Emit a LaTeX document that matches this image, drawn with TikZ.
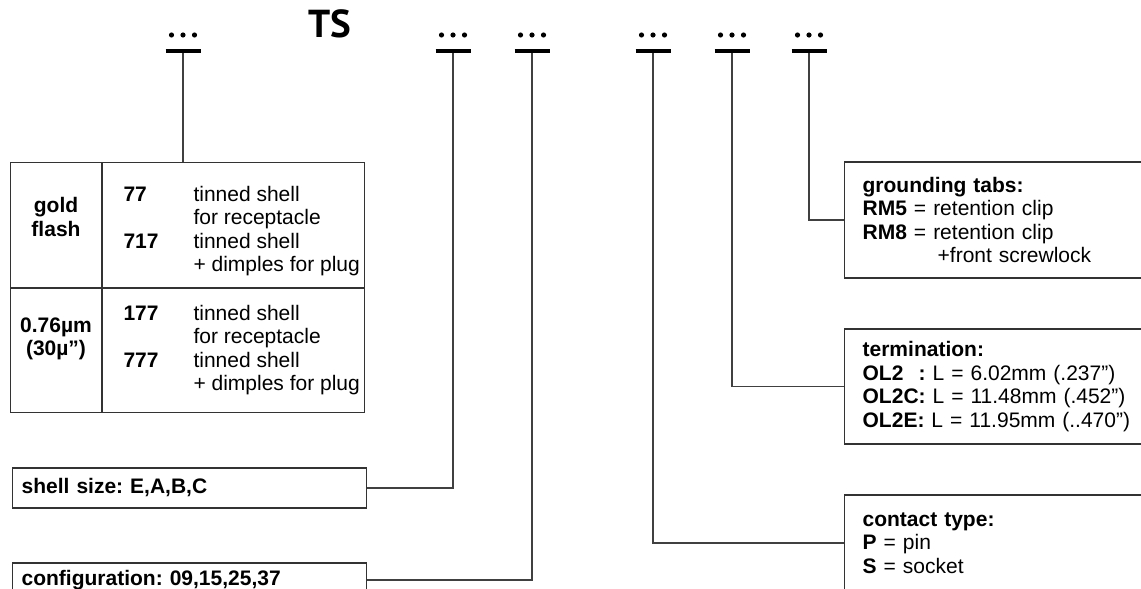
\documentclass[tikz,border=0pt]{standalone}
\usepackage{fontspec}
\setmainfont{Liberation Sans}
\newfontfamily\tsfont{PT Sans}
\newcommand\bodyfont{\fontsize{21}{23.5}\selectfont\frenchspacing}
\begin{document}
\begin{tikzpicture}[x=1pt,y=-1pt,font=\bodyfont,every node/.style={text=black},
    box/.style={draw=black!80,line width=1.3pt,inner sep=0pt},
    infobox/.style={box,anchor=west,text width=300pt,align=left,inner xsep=18pt},
    link/.style={draw=black!75,line width=1.1pt}]
    \useasboundingbox (0,0) rectangle (1141,589);
    \node[font=\tsfont\fontsize{39}{39}\selectfont\bfseries] (ts) at (329.5,24) {TS};
    \foreach \name/\x in {m1/183,m2/453,m3/532,m4/653,m5/732,m6/809}
      \coordinate (\name) at (\x,51);
    % plating table
    \node[box,anchor=north west,minimum width=354pt,minimum height=250pt] (plating) at (10,162) {};
    \draw[box] ([xshift=92pt]plating.north west) -- ([xshift=92pt]plating.south west);
    \draw[box] ([yshift=-126pt]plating.north west) -- ([yshift=-126pt]plating.north east);
    \node[font=\bodyfont\bfseries,align=center] (gold) at (56,217) {gold\\flash};
    \node[font=\bodyfont\bfseries,align=center] (thick) at (56,339) {0.76µm\\(30µ”)};
    % base anchor = baseline of the last line
    \node[font=\bodyfont\bfseries,anchor=base west,align=left] (codeA) at (120,248) {77\\[23.5pt]717};
    \node[font=\bodyfont\bfseries,anchor=base west,align=left] (codeB) at (120,367) {177\\[23.5pt]777};
    \node[anchor=base west,align=left] (descA) at (190,271.5) {tinned shell\\for receptacle\\tinned shell\\+ dimples for plug};
    \node[anchor=base west,align=left] (descB) at (190,390.5) {tinned shell\\for receptacle\\tinned shell\\+ dimples for plug};
    % option boxes
    \node[box,anchor=west,minimum height=40pt,text width=336pt,align=left,inner xsep=9pt] (shell) at (12,488) {\textbf{shell size: E,A,B,C}};
    \node[box,anchor=west,minimum height=34pt,text width=336pt,align=left,inner xsep=9pt] (config) at (12,580) {\textbf{configuration: 09,15,25,37}};
    \node[infobox,minimum height=116pt] (tabs) at (844,220) {\textbf{grounding tabs:}\\\textbf{RM5} = retention clip\\\textbf{RM8} = retention clip\\\hspace*{75pt}+front screwlock};
    \node[infobox,minimum height=115pt] (term) at (844,386.5) {\textbf{termination:}\\\textbf{OL2\hphantom{C}:} L = 6.02mm (.237")\\\textbf{OL2C:} L = 11.48mm (.452")\\\textbf{OL2E:} L = 11.95mm (..470")};
    \node[infobox,minimum height=96pt] (contact) at (844,543) {\textbf{contact type:}\\\textbf{P} = pin\\\textbf{S} = socket};
    % connectors
    \draw[link] (m1) -- (plating.north -| m1);
    \draw[link] (shell.east) -| (m2);
    \draw[link] (config.east) -| (m3);
    \draw[link] (contact.west) -| (m4);
    \draw[link] (term.west) -| (m5);
    \draw[link] (tabs.west) -| (m6);
    \foreach \name in {m1,m2,m3,m4,m5,m6}{
      \draw[line width=4pt] ([xshift=-17.5pt]\name) -- ([xshift=17.5pt]\name);
      \foreach \d in {-11.5,0,11.5}
        \fill ([xshift=\d pt,yshift=16pt]\name) circle (2.6pt);
    }
\end{tikzpicture}
\end{document}
